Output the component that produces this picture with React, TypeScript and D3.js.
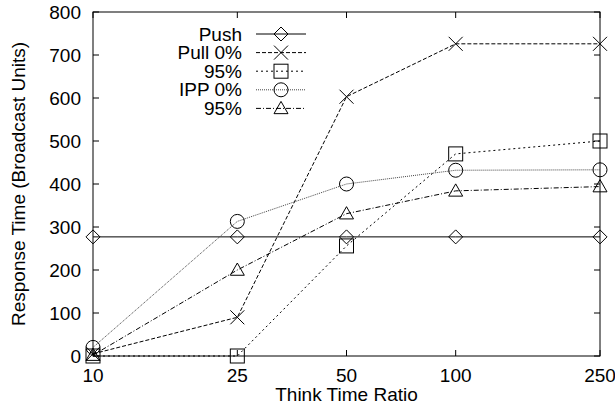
import React, { useEffect, useRef } from "react";
import * as d3 from "d3";

// think time ratios (log x axis)
const ratios = [10, 25, 50, 100, 250];
const yTicks = [0, 100, 200, 300, 400, 500, 600, 700, 800];

const pushVals = [277, 277, 277, 277, 277];
const pull0Vals = [5, 90, 603, 726, 726];
const pull95Vals = [0, 0, 256, 470, 500];
const ipp0Vals = [20, 313, 400, 432, 433];
const ipp95Vals = [2, 200, 331, 384, 394];

const seriesNames = ["Push", "Pull 0%", "95%", "IPP 0%", "95%"];

export default function App() {
  const ref = useRef<SVGSVGElement>(null);

  useEffect(() => {
    const width = 615;
    const height = 409;
    const margin = { top: 12, right: 15, bottom: 53, left: 93 };
    const innerWidth = width - margin.left - margin.right;
    const innerHeight = height - margin.top - margin.bottom;

    const svg = d3.select(ref.current);
    svg.selectAll("*").remove();

    const g = svg.append("g").attr("transform", `translate(${margin.left},${margin.top})`);

    const x = d3.scaleLog().domain([10, 250]).range([0, innerWidth]);
    const y = d3.scaleLinear().domain([0, 800]).range([innerHeight, 0]);

    const font = "'Liberation Sans', Arial, Helvetica, sans-serif";
    const fs = 19;

    // frame
    g.append("rect")
      .attr("width", innerWidth).attr("height", innerHeight)
      .attr("fill", "none").attr("stroke", "#000").attr("stroke-width", 1);

    // y ticks (left and mirrored right)
    yTicks.forEach(t => {
      const yy = y(t);
      g.append("line").attr("x1", 0).attr("x2", 6).attr("y1", yy).attr("y2", yy).attr("stroke", "#000");
      g.append("line").attr("x1", innerWidth).attr("x2", innerWidth - 6).attr("y1", yy).attr("y2", yy).attr("stroke", "#000");
      g.append("text")
        .attr("x", -12).attr("y", yy + 6.5)
        .attr("text-anchor", "end")
        .attr("font-family", font).attr("font-size", fs)
        .text(t);
    });

    // x ticks (bottom and mirrored top)
    ratios.forEach(r => {
      const xx = x(r);
      g.append("line").attr("x1", xx).attr("x2", xx).attr("y1", innerHeight).attr("y2", innerHeight - 6).attr("stroke", "#000");
      g.append("line").attr("x1", xx).attr("x2", xx).attr("y1", 0).attr("y2", 6).attr("stroke", "#000");
      g.append("text")
        .attr("x", xx).attr("y", innerHeight + 26)
        .attr("text-anchor", "middle")
        .attr("font-family", font).attr("font-size", fs)
        .text(r);
    });

    // axis labels
    svg.append("text")
      .attr("x", margin.left + innerWidth / 2).attr("y", 401)
      .attr("text-anchor", "middle")
      .attr("font-family", font).attr("font-size", fs)
      .text("Think Time Ratio");

    svg.append("text")
      .attr("transform", `translate(25, ${margin.top + innerHeight / 2}) rotate(-90)`)
      .attr("text-anchor", "middle")
      .attr("font-family", font).attr("font-size", fs)
      .text("Response Time (Broadcast Units)");

    const series = [
      { vals: pushVals, dash: null, color: "#000", marker: "diamond" },
      { vals: pull0Vals, dash: "4,2", color: "#000", marker: "cross" },
      { vals: pull95Vals, dash: "2,3", color: "#000", marker: "square" },
      { vals: ipp0Vals, dash: "1,1", color: "#444", marker: "circle" },
      { vals: ipp95Vals, dash: "5,2,1,2", color: "#000", marker: "triangle" },
    ];

    const drawMarker = (sel: any, kind: string, cx: number, cy: number) => {
      const s = 7;
      if (kind === "diamond") {
        sel.append("path").attr("d", `M${cx},${cy - s}L${cx + s},${cy}L${cx},${cy + s}L${cx - s},${cy}Z`)
          .attr("fill", "none").attr("stroke", "#000");
      } else if (kind === "cross") {
        sel.append("path").attr("d", `M${cx - s},${cy - s}L${cx + s},${cy + s}M${cx - s},${cy + s}L${cx + s},${cy - s}`)
          .attr("fill", "none").attr("stroke", "#000");
      } else if (kind === "square") {
        sel.append("rect").attr("x", cx - s).attr("y", cy - s).attr("width", 2 * s).attr("height", 2 * s)
          .attr("fill", "none").attr("stroke", "#000");
      } else if (kind === "circle") {
        sel.append("circle").attr("cx", cx).attr("cy", cy).attr("r", s)
          .attr("fill", "none").attr("stroke", "#000");
      } else {
        sel.append("path").attr("d", `M${cx},${cy - s}L${cx + s},${cy + s * 0.75}L${cx - s},${cy + s * 0.75}Z`)
          .attr("fill", "none").attr("stroke", "#000");
      }
    };

    const line = d3.line<number>().x((d, i) => x(ratios[i])).y(d => y(d));

    series.forEach(s => {
      g.append("path")
        .datum(s.vals)
        .attr("d", line)
        .attr("fill", "none")
        .attr("stroke", s.color)
        .attr("stroke-width", 1)
        .attr("stroke-dasharray", s.dash);
      s.vals.forEach((v, i) => drawMarker(g, s.marker, x(ratios[i]), y(v)));
    });

    // legend
    const legend = svg.append("g");
    series.forEach((s, i) => {
      const ly = 34 + i * 18.6;
      legend.append("text")
        .attr("x", 242).attr("y", ly + 6.5)
        .attr("text-anchor", "end")
        .attr("font-family", font).attr("font-size", fs)
        .text(seriesNames[i]);
      legend.append("line")
        .attr("x1", 256).attr("x2", 306).attr("y1", ly).attr("y2", ly)
        .attr("stroke", s.color).attr("stroke-dasharray", s.dash);
      drawMarker(legend, s.marker, 281, ly);
    });
  }, []);

  return (
    <svg ref={ref} width={615} height={409} style={{ position: "absolute", left: 0, top: 0, background: "#fff" }} />
  );
}
